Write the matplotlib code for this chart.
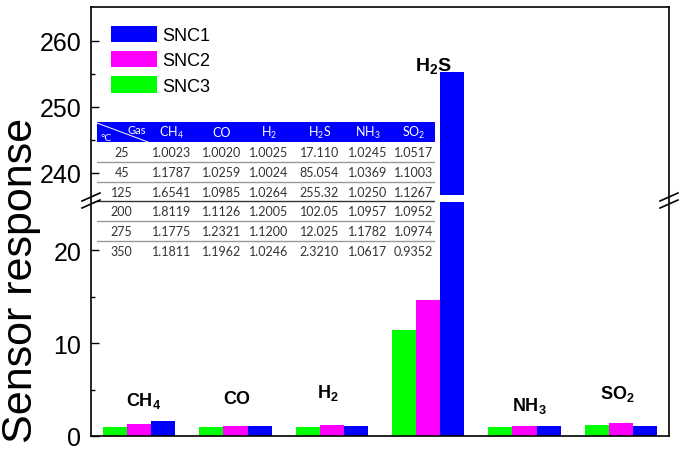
import matplotlib.pyplot as plt
import numpy as np
from matplotlib.lines import Line2D
from matplotlib.patches import Rectangle

plt.rcParams['font.family'] = ['Liberation Sans', 'DejaVu Sans']
plt.rcParams['mathtext.fontset'] = 'custom'
plt.rcParams['mathtext.rm'] = 'Liberation Sans'
plt.rcParams['mathtext.bf'] = 'Liberation Sans:bold'

# data

gas_labels = [r'$\mathbf{CH_4}$', r'$\mathbf{CO}$', r'$\mathbf{H_2}$',
              r'$\mathbf{H_2S}$', r'$\mathbf{NH_3}$', r'$\mathbf{SO_2}$']
snc1 = [1.6541, 1.0985, 1.0264, 255.32, 1.0250, 1.1267]
snc2 = [1.32, 1.04, 1.15, 14.6, 1.10, 1.37]
snc3 = [1.00, 1.00, 1.00, 11.4, 1.00, 1.20]

table_cols = ['CH$_\\mathregular{4}$', 'CO', 'H$_\\mathregular{2}$', 'H$_\\mathregular{2}$S',
              'NH$_\\mathregular{3}$', 'SO$_\\mathregular{2}$']
temps = ['25', '45', '125', '200', '275', '350']
table_vals = [
    ['1.0023', '1.0020', '1.0025', '17.110', '1.0245', '1.0517'],
    ['1.1787', '1.0259', '1.0024', '85.054', '1.0369', '1.1003'],
    ['1.6541', '1.0985', '1.0264', '255.32', '1.0250', '1.1267'],
    ['1.8119', '1.1126', '1.2005', '102.05', '1.0957', '1.0952'],
    ['1.1775', '1.2321', '1.1200', '12.025', '1.1782', '1.0974'],
    ['1.1811', '1.1962', '1.0246', '2.3210', '1.0617', '0.9352'],
]

blue, magenta, green = '#0000FF', '#FF00FF', '#00FF00'

# figure layout in pixels

W, H = 685, 452
fig = plt.figure(figsize=(W / 100, H / 100), dpi=100)

def box(x0, y0, x1, y1):
    return [x0 / W, 1 - y1 / H, (x1 - x0) / W, (y1 - y0) / H]

ax_lo = fig.add_axes(box(91, 203, 669, 437))
ax_hi = fig.add_axes(box(91, 8, 669, 196))
frame = fig.add_axes(box(91, 8, 669, 437))

x = np.arange(1, len(snc1) + 1)
w = 0.25
for ax in (ax_lo, ax_hi):
    b1 = ax.bar(x + w, snc1, w, color=blue, label='SNC1')
    b2 = ax.bar(x, snc2, w, color=magenta, label='SNC2')
    b3 = ax.bar(x - w, snc3, w, color=green, label='SNC3')
    ax.set_xlim(0.5, 6.5)
    ax.set_xticks([])
    for s in ax.spines.values():
        s.set_visible(False)
    ax.tick_params(axis='y', which='major', direction='in', length=6, width=1, labelsize=18, pad=7)
    ax.tick_params(axis='y', which='minor', direction='in', length=3, width=1)
    ax.patch.set_visible(False)

ax_lo.set_ylim(0, 25.2)
ax_lo.set_yticks([0, 10, 20])
ax_lo.set_yticks([5, 15], minor=True)
ax_hi.set_ylim(236.6, 265.1)
ax_hi.set_yticks([240, 250, 260])
ax_hi.set_yticks([245, 255], minor=True)

frame.set_xticks([])
frame.set_yticks([])
frame.patch.set_visible(False)
for s in frame.spines.values():
    s.set_linewidth(1.2)

# gas labels
label_dx = [0.05, 0.02, -0.04, 0, 0.05, -0.04]
label_y = [3.35, 3.5, 4.2, None, 2.8, 4.1]
for i, lab in enumerate(gas_labels):
    if label_y[i] is None:
        ax_hi.text(x[i] + 0.05, 255.6, lab, fontsize=14, ha='center', va='baseline')
    else:
        ax_lo.text(x[i] + label_dx[i], label_y[i], lab, fontsize=13, ha='center', va='baseline')

ax_hi.legend(handles=[b1, b2, b3], loc='upper left', bbox_to_anchor=(0.034, 0.90),
             frameon=False, fontsize=13, handlelength=2.55, handleheight=1.0,
             labelspacing=0.39, handletextpad=0.33, borderaxespad=0, borderpad=0)

fig.text(21 / W, 1 - 280 / H, 'Sensor response', rotation=90, fontsize=31,
         ha='center', va='center')

# break marks on both spines
for xc in (91, 669):
    for yc in (198, 205):
        fig.add_artist(Line2D([(xc - 9) / W, (xc + 9) / W], [1 - (yc + 4) / H, 1 - (yc - 4) / H],
                              color='black', lw=1.2, transform=fig.transFigure))

# inset table
tab = fig.add_axes(box(97, 123, 435, 262))
tab.set_xlim(97, 435)
tab.set_ylim(262, 123)
tab.axis('off')

col_x = [121.7, 171.7, 221.7, 269, 319.3, 367.7, 413.3]
row_y = [153, 172.7, 192.5, 212.3, 232.3, 252.3]
tfont = ['Lato', 'DejaVu Sans']

tab.add_patch(Rectangle((97, 123.3), 338, 20, color=blue, lw=0))
tab.plot([97, 148], [124, 143], color='white', lw=0.7)
tab.text(137, 130, 'Gas', color='white', fontsize=8, family=tfont, ha='center', va='center')
tab.text(106, 138.5, '°C', color='white', fontsize=7.5, family=tfont, ha='center', va='center')
for cx, lab in zip(col_x[1:], table_cols):
    tab.text(cx, 133.3, lab, color='white', fontsize=9, family=tfont, ha='center', va='center')

for r, (t, vals) in enumerate(zip(temps, table_vals)):
    tab.text(col_x[0], row_y[r], t, color='#333333', fontsize=9, family=tfont, ha='center', va='center')
    for cx, v in zip(col_x[1:], vals):
        tab.text(cx, row_y[r], v, color='#333333', fontsize=9, family=tfont, ha='center', va='center')

for r, ly in enumerate([162.7, 182.7, 202.3, 222.3, 242.3]):
    tab.plot([97, 435], [ly, ly], color='#333333' if r == 2 else '#999999', lw=1)

fig.savefig('out.png', dpi=100)
